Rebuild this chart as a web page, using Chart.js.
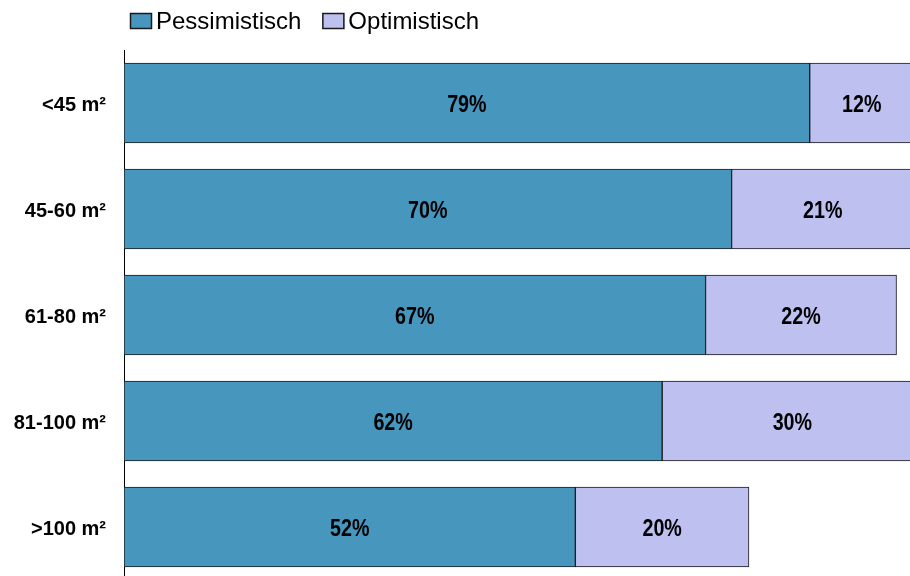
<!DOCTYPE html>
<html><head><meta charset="utf-8">
<script src="https://cdn.jsdelivr.net/npm/chart.js@4"></script>
<style>
html,body{margin:0;padding:0;overflow:hidden;background:#fff;width:910px;height:576px}
#wrap{position:absolute;left:0;top:0;width:1000px;height:580px}
</style></head>
<body><div id="wrap"><canvas id="c" width="1000" height="580"></canvas></div>
<script>
const categories = ['<45 m²', '45-60 m²', '61-80 m²', '81-100 m²', '>100 m²'];
const pessimistisch = [79, 70, 67, 62, 52];
const optimistisch = [12, 21, 22, 30, 20];
const seriesNames = ['Pessimistisch', 'Optimistisch'];
const seriesColors = ['#4796BE', '#BEC0F0'];

const REG = "'Liberation Sans', Arial, sans-serif";

const valueLabels = {
  id: 'valueLabels',
  afterDatasetsDraw(chart) {
    const ctx = chart.ctx;
    chart.data.datasets.forEach((ds, i) => {
      const meta = chart.getDatasetMeta(i);
      meta.data.forEach((el, j) => {
        const p = el.getProps(['x', 'base', 'y'], true);
        const cx = (p.x + p.base) / 2;
        ctx.save();
        ctx.font = 'bold 24px ' + REG;
        ctx.fillStyle = '#000';
        ctx.textAlign = 'center';
        ctx.textBaseline = 'alphabetic';
        ctx.translate(cx, p.y + 9);
        ctx.scale(0.82, 1);
        ctx.fillText(ds.data[j] + '%', 0, 0);
        ctx.restore();
      });
    });
  }
};

const customLegend = {
  id: 'customLegend',
  afterDraw(chart) {
    const ctx = chart.ctx;
    ctx.save();
    ctx.font = '24px ' + REG;
    ctx.textBaseline = 'alphabetic';
    ctx.textAlign = 'left';
    let x = 130;
    chart.data.datasets.forEach((ds) => {
      ctx.fillStyle = ds.backgroundColor;
      ctx.fillRect(x, 13, 22, 16);
      ctx.strokeStyle = '#1a1a1a';
      ctx.lineWidth = 1.5;
      ctx.strokeRect(x + 0.5, 13.5, 21, 15);
      ctx.fillStyle = '#000';
      ctx.fillText(ds.label, x + 26, 29);
      x += 26 + ctx.measureText(ds.label).width + 21;
    });
    ctx.restore();
  }
};

new Chart(document.getElementById('c'), {
  type: 'bar',
  data: {
    labels: categories,
    datasets: [
      { label: seriesNames[0], data: pessimistisch, backgroundColor: seriesColors[0] },
      { label: seriesNames[1], data: optimistisch, backgroundColor: seriesColors[1] }
    ]
  },
  options: {
    indexAxis: 'y',
    responsive: false,
    animation: false,
    devicePixelRatio: 1,
    layout: { padding: { top: 50, right: 8, bottom: 0, left: 0 } },
    datasets: {
      bar: {
        borderColor: '#1a1a1a',
        borderWidth: 1,
        borderSkipped: false,
        categoryPercentage: 1,
        barThickness: 80
      }
    },
    plugins: { legend: { display: false }, tooltip: { enabled: false } },
    scales: {
      x: { stacked: true, min: 0, max: 100, display: false },
      y: {
        stacked: true,
        afterFit(axis) { axis.width = 124; axis.paddingTop = 0; axis.paddingBottom = 0; },
        grid: { display: false, drawTicks: false },
        border: { display: true, color: '#000', width: 1 },
        ticks: {
          padding: 18,
          labelOffset: 2,
          color: '#000',
          font: { family: REG, size: 20, weight: 'bold' }
        }
      }
    }
  },
  plugins: [valueLabels, customLegend]
});
</script>
</body></html>
